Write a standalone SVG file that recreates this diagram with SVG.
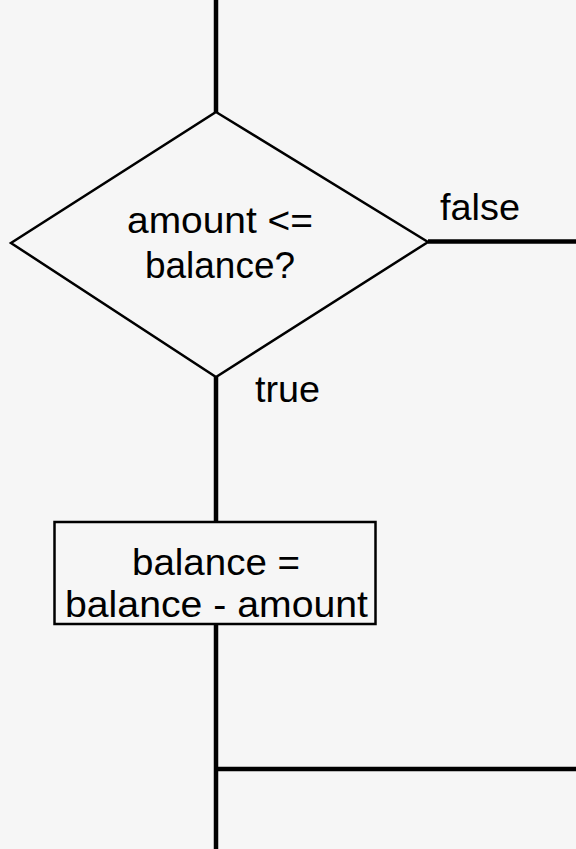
<svg xmlns="http://www.w3.org/2000/svg" width="576" height="849" viewBox="0 0 576 849">
<style>
.bg{fill:#f6f6f6}
.conn{stroke:#000;stroke-width:4.5;fill:none}
.shape{stroke:#000;stroke-width:2.5;fill:#f6f6f6}
.t{font-family:"Liberation Sans",Arial,sans-serif;font-size:36px;fill:#000}
.c{text-anchor:middle}
</style>
<rect class="bg" x="0" y="0" width="576" height="849"/>
<g id="connectors">
<line class="conn" x1="216" y1="0" x2="216" y2="113"/>
<line class="conn" x1="428" y1="241.5" x2="576" y2="241.5"/>
<line class="conn" x1="216" y1="377" x2="216" y2="522"/>
<line class="conn" x1="216" y1="624" x2="216" y2="849"/>
<line class="conn" x1="216" y1="769" x2="576" y2="769"/>
</g>
<g id="decision">
<polygon class="shape" points="216,112 428,242 216,377 11,243"/>
<text class="t c" x="220" y="233" textLength="186" lengthAdjust="spacingAndGlyphs">amount &lt;=</text>
<text class="t c" x="220" y="278" textLength="150" lengthAdjust="spacingAndGlyphs">balance?</text>
</g>
<g id="label-false">
<text class="t" x="440" y="220" textLength="80" lengthAdjust="spacingAndGlyphs">false</text>
</g>
<g id="label-true">
<text class="t" x="255" y="402" textLength="65" lengthAdjust="spacingAndGlyphs">true</text>
</g>
<g id="process">
<rect class="shape" x="54.5" y="522" width="321" height="102"/>
<text class="t c" x="216" y="575" textLength="168" lengthAdjust="spacingAndGlyphs">balance =</text>
<text class="t c" x="216.5" y="617" textLength="303" lengthAdjust="spacingAndGlyphs">balance - amount</text>
</g>
</svg>
